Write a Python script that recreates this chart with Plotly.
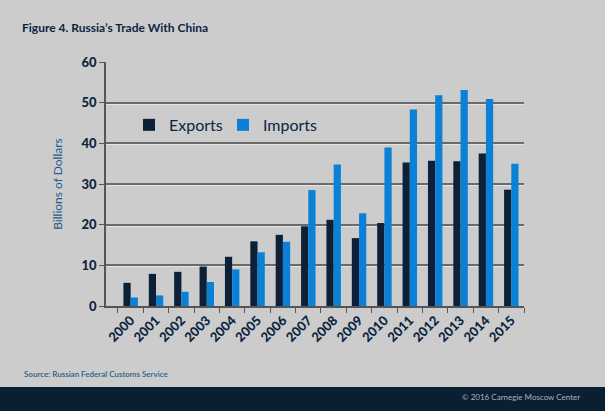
import plotly.graph_objects as go

# Russia's trade with China, billions of US dollars
years = [str(y) for y in range(2000, 2016)]
exports = [5.7, 7.9, 8.4, 9.7, 12.1, 15.9, 17.5, 19.6,
           21.2, 16.7, 20.4, 35.3, 35.7, 35.6, 37.5, 28.6]
imports = [2.1, 2.6, 3.5, 5.9, 9.0, 13.2, 15.8, 28.5,
           34.8, 22.8, 39.0, 48.3, 51.8, 53.1, 50.9, 35.0]
y_ticks = [0, 10, 20, 30, 40, 50, 60]

NAVY = '#0c2137'
BLUE = '#0a80d6'
BG = '#cccccc'
TEXT = '#0b2540'
GRID = '#6a6a6a'

fig = go.Figure()
fig.add_trace(go.Bar(x=years, y=exports, name='Exports', marker_color=NAVY,
                     marker_line_width=0))
fig.add_trace(go.Bar(x=years, y=imports, name='Imports', marker_color=BLUE,
                     marker_line_width=0))
# dummy trace so the highlight axis (light line under each gridline) is drawn
fig.add_trace(go.Scatter(x=[years[0]], y=[None], yaxis='y2', showlegend=False,
                         hoverinfo='skip'))

fig.update_layout(
    width=605, height=411,
    margin=dict(l=106, r=81, t=62, b=105),
    paper_bgcolor=BG, plot_bgcolor=BG,
    barmode='group', bargap=0.43, bargroupgap=0,
    font=dict(family='Lato', color=TEXT),
    legend=dict(orientation='h', x=0.055, y=0.742, yanchor='middle',
                bgcolor='rgba(0,0,0,0)', font=dict(size=16, color=TEXT),
                itemwidth=30, entrywidth=49),
    title=dict(text="<b>Figure 4. Russia’s Trade With China</b>",
               x=22 / 605, xanchor='left', y=1 - 28 / 411, yanchor='middle',
               font=dict(size=12, color=TEXT)),
    xaxis=dict(
        type='category', tickangle=-45, tickson='boundaries',
        ticks='outside', ticklen=5, tickcolor='#555555',
        showline=True, linecolor='#555555', linewidth=1.5,
        showgrid=False,
        tickfont=dict(size=13, color=TEXT, weight=900),
    ),
    yaxis=dict(
        range=[0, 60], tickvals=y_ticks,
        ticks='outside', ticklen=5, tickcolor='#555555',
        showline=True, linecolor='#555555', linewidth=1.5,
        gridcolor=GRID, gridwidth=1.5, zeroline=False,
        tickfont=dict(size=13, color=TEXT, weight=900),
        title=dict(text='Billions of Dollars', standoff=16,
                   font=dict(size=12, color='#1d5b8a')),
    ),
    yaxis2=dict(
        overlaying='y', range=[0.37, 60.37], tickvals=y_ticks[1:-1],
        showticklabels=False, ticks='', showline=False, zeroline=False,
        gridcolor='#e4e4e4', gridwidth=1,
    ),
)

# footer band
fig.add_shape(type='rect', xref='paper', yref='paper',
              x0=-1, x1=2, y0=-1, y1=-(387 - 306) / 244,
              fillcolor='#0b1f33', line_width=0, layer='below')

fig.add_annotation(text='Source: Russian Federal Customs Service',
                   xref='paper', yref='paper', x=-(106 - 22) / 418, xanchor='left',
                   y=-(374 - 306) / 244, yanchor='middle', showarrow=False,
                   font=dict(size=8, color='#2a5d85', weight=600))
fig.add_annotation(text='© 2016 Carnegie Moscow Center',
                   xref='paper', yref='paper', x=(582 - 106) / 418, xanchor='right',
                   y=-(397 - 306) / 244, yanchor='middle', showarrow=False,
                   font=dict(size=8, color='#a9b3bd'))

fig.write_html('out.html', config={'displayModeBar': False},
               post_script="document.body.style.margin='0';")
